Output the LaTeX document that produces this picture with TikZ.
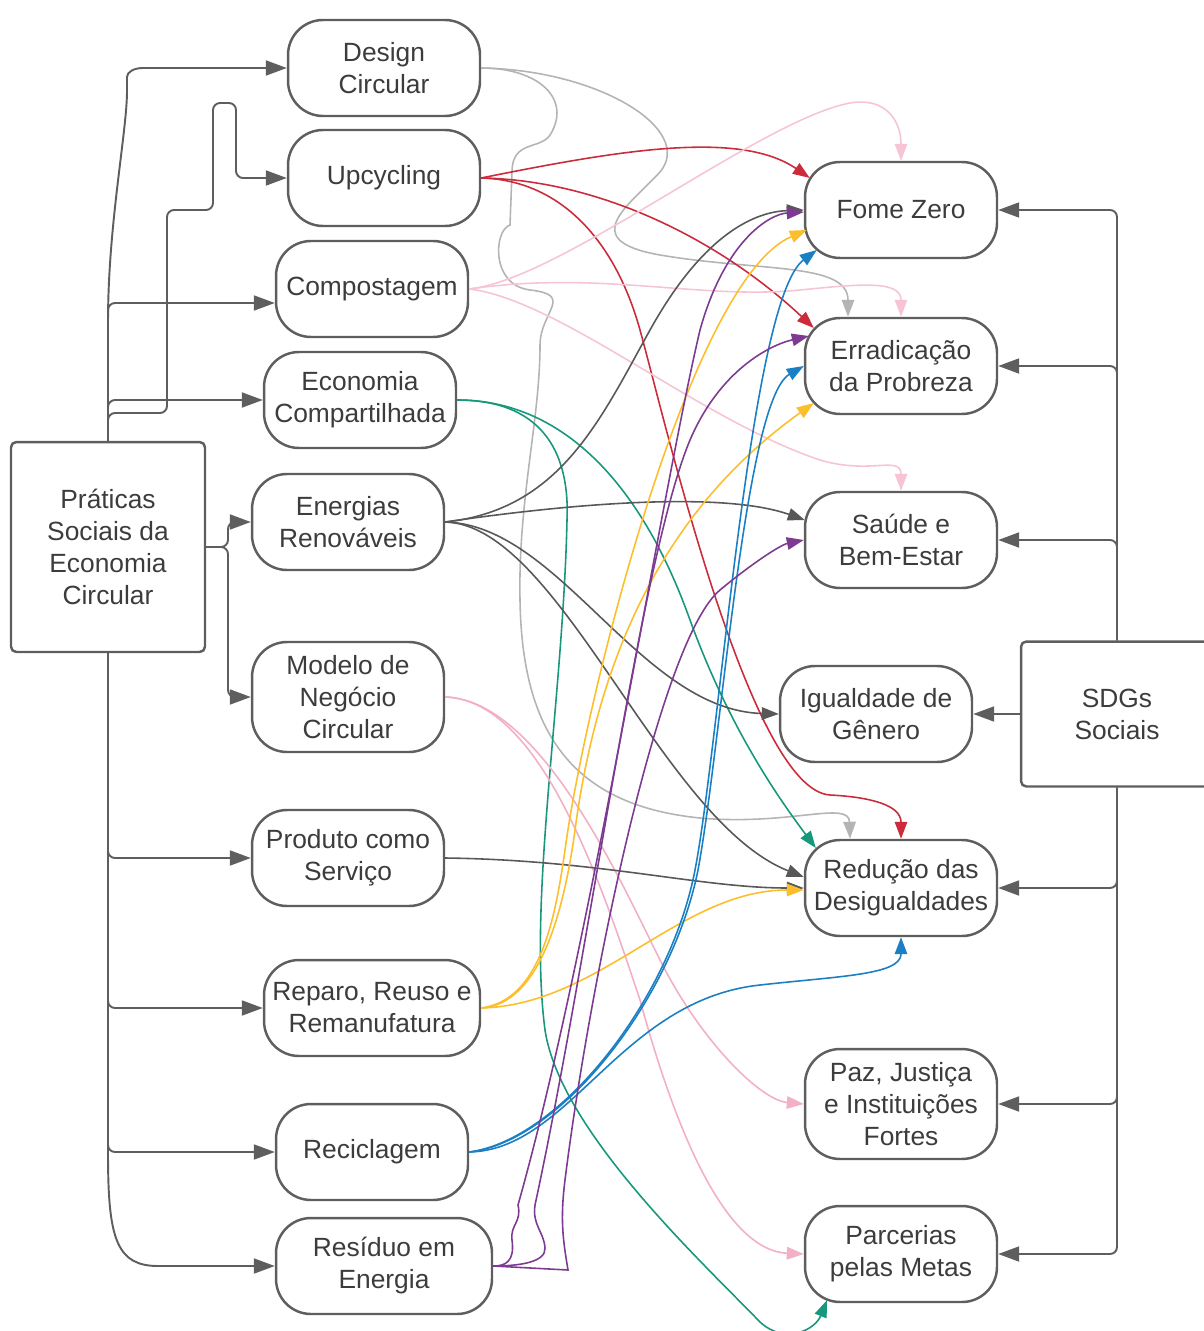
\documentclass[tikz,border=0pt]{standalone}
\usepackage{fontspec}
\setmainfont{Liberation Sans}
\usetikzlibrary{arrows.meta}

\definecolor{linec}{HTML}{5E5E5E}
\definecolor{textc}{HTML}{3C3C3C}
\definecolor{lgray}{HTML}{B4B4B4}
\definecolor{dgray}{HTML}{585858}
\definecolor{cred}{HTML}{CB2B3A}
\definecolor{lpink}{HTML}{F6C4D4}
\definecolor{cpink}{HTML}{F2AFC6}
\definecolor{cgreen}{HTML}{17977C}
\definecolor{cyellow}{HTML}{FDBE2C}
\definecolor{cblue}{HTML}{1B7FC3}
\definecolor{cpurple}{HTML}{7D3A91}

\tikzset{
  pill/.style={draw=linec, line width=1.4pt, rounded corners=0.7cm, minimum width=3.84cm, minimum height=1.92cm, align=center, inner sep=1pt, text=textc, font=\fontsize{15}{18.2}\selectfont},
  bigbox/.style={draw=linec, line width=1.4pt, rounded corners=3pt, minimum width=3.88cm, align=center, text=textc, font=\fontsize{15}{18.2}\selectfont},
  trunk/.style={draw=linec, line width=1.1pt, rounded corners=4pt, -{Triangle[length=0.42cm,width=0.3cm]}},
  link/.style={line width=0.9pt, -{Triangle[length=0.34cm,width=0.25cm]}},
}

\begin{document}
\begin{tikzpicture}[x=0.02cm, y=-0.02cm]
\useasboundingbox (0,0) rectangle (1203,1331);

\node[bigbox, minimum height=4.2cm] (pr) at (108,547) {Práticas\\Sociais da\\Economia\\Circular};
\node[pill] (dc) at (384,68) {Design\\Circular};
\node[pill] (up) at (384,178) {Upcycling};
\node[pill] (cp) at (372,289) {Compostagem};
\node[pill] (ec) at (360,400) {Economia\\Compartilhada};
\node[pill] (en) at (348,522) {Energias\\Renováveis};
\node[pill, minimum height=2.2cm] (mn) at (348,697) {Modelo de\\Negócio\\Circular};
\node[pill] (ps) at (348,858) {Produto como\\Serviço};
\node[pill, minimum width=4.32cm] (rr) at (372,1008) {Reparo, Reuso e\\Remanufatura};
\node[pill] (rc) at (372,1152) {Reciclagem};
\node[pill, minimum width=4.32cm] (re) at (384,1266) {Resíduo em\\Energia};

\node[pill] (fz) at (901,210) {Fome Zero};
\node[pill] (ep) at (901,366) {Erradicação\\da Probreza};
\node[pill] (sb) at (901,540) {Saúde e\\Bem-Estar};
\node[pill] (ig) at (876,714) {Igualdade de\\Gênero};
\node[pill] (rd) at (901,888) {Redução das\\Desigualdades};
\node[pill, minimum height=2.2cm] (pj) at (901,1104) {Paz, Justiça\\e Instituições\\Fortes};
\node[pill] (pm) at (901,1254) {Parcerias\\pelas Metas};
\node[bigbox, minimum width=3.84cm, minimum height=2.9cm] (sdg) at (1117,714) {SDGs\\Sociais};

\draw[trunk] (pr.north) -- (108,320) .. controls (109,220) and (127,130) .. (127,84) .. controls (127,72) and (134,68) .. (150,68) -- (dc.west);
\draw[trunk] (pr.north) -- (108,413) -- (167,413) -- (167,210) -- (213,210) -- (213,103) -- (236,103) -- (236,178) -- (up.west);
\draw[trunk] (pr.north) |- ([shift={(0,14)}]cp.west);
\draw[trunk] (pr.north) |- (ec.west);
\draw[trunk] (pr.east) -- (228,547) |- (en.west);
\draw[trunk] (pr.east) -- (228,547) |- (mn.west);
\draw[trunk] (pr.south) |- (ps.west);
\draw[trunk] (pr.south) |- (rr.west);
\draw[trunk] (pr.south) |- (rc.west);
\draw[trunk] (pr.south) -- (108,1160) .. controls (109,1240) and (118,1266) .. (165,1266) -- (re.west);

\draw[trunk] (sdg.north) |- (fz.east);
\draw[trunk] (sdg.north) |- (ep.east);
\draw[trunk] (sdg.north) |- (sb.east);
\draw[trunk] (sdg.west) -- (ig.east);
\draw[trunk] (sdg.south) |- (rd.east);
\draw[trunk] (sdg.south) |- (pj.east);
\draw[trunk] (sdg.south) |- (pm.east);

\draw[link, lgray] (dc.east) .. controls (540,68) and (572,100) .. (550,135) .. controls (540,150) and (512,140) .. (512,172) -- (510,225) .. controls (494,230) and (490,285) .. (530,290) .. controls (575,295) and (540,312) .. (540,345) .. controls (540,420) and (518,500) .. (520,600) .. controls (522,730) and (570,805) .. (700,818) .. controls (790,826) and (849,800) .. ([shift={(-51,0)}]rd.north);
\draw[link, lgray] (dc.east) .. controls (600,70) and (695,130) .. (660,172) .. controls (630,205) and (575,240) .. (660,255) .. controls (760,272) and (848,262) .. ([shift={(-53,0)}]ep.north);

\draw[link, cred] (up.east) .. controls (620,150) and (740,130) .. ([shift={(6,-32)}]fz.west);
\draw[link, cred] (up.east) .. controls (600,180) and (720,240) .. ([shift={(10,-38)}]ep.west);
\draw[link, cred] (up.east) .. controls (560,180) and (615,240) .. (640,330) .. controls (665,420) and (750,790) .. (830,795) .. controls (870,797) and (901,805) .. (rd.north);

\draw[link, lpink] (cp.east) .. controls (560,280) and (760,120) .. (850,103) .. controls (885,97) and (901,120) .. (fz.north);
\draw[link, lpink] (cp.east) .. controls (600,270) and (700,300) .. (800,290) .. controls (860,284) and (901,280) .. (ep.north);
\draw[link, lpink] (cp.east) .. controls (560,300) and (700,420) .. (820,460) .. controls (870,475) and (901,455) .. (sb.north);

\draw[link, cgreen] (ec.east) .. controls (560,400) and (640,480) .. (690,620) .. controls (730,730) and (780,800) .. ([shift={(12,-40)}]rd.west);
\draw[link, cgreen] (ec.east) .. controls (540,400) and (570,450) .. (567,520) .. controls (563,700) and (528,900) .. (545,1030) .. controls (560,1130) and (700,1260) .. (760,1322) .. controls (785,1345) and (815,1330) .. ([shift={(-74,-3)}]pm.south);

\draw[link, dgray] (en.east) .. controls (560,510) and (600,420) .. (650,330) .. controls (700,240) and (750,212) .. (fz.west);
\draw[link, dgray] (en.east) .. controls (560,505) and (720,490) .. ([shift={(1,-20)}]sb.west);
\draw[link, dgray] (en.east) .. controls (560,525) and (640,710) .. (ig.west);
\draw[link, dgray] (en.east) .. controls (560,525) and (660,820) .. ([shift={(0,-11)}]rd.west);

\draw[link, cpink] (mn.east) .. controls (540,700) and (620,880) .. (660,960) .. controls (700,1040) and (760,1100) .. (pj.west);
\draw[link, cpink] (mn.east) .. controls (540,700) and (600,880) .. (640,1000) .. controls (670,1110) and (720,1250) .. (pm.west);

\draw[link, dgray] (ps.east) .. controls (600,860) and (700,888) .. (rd.west);

\draw[link, cyellow] (rr.east) .. controls (540,1000) and (555,920) .. (565,850) .. controls (585,700) and (690,280) .. ([shift={(3,20)}]fz.west);
\draw[link, cyellow] (rr.east) .. controls (530,1005) and (560,940) .. (575,830) .. controls (595,680) and (650,520) .. ([shift={(10,37)}]ep.west);
\draw[link, cyellow] (rr.east) .. controls (600,1005) and (680,890) .. ([shift={(0,2)}]rd.west);

\draw[link, cblue] (rc.east) .. controls (560,1140) and (670,1000) .. (695,870) .. controls (720,740) and (750,300) .. ([shift={(13,40)}]fz.west);
\draw[link, cblue] (rc.east) .. controls (560,1142) and (672,1000) .. (698,870) .. controls (722,740) and (745,400) .. (ep.west);
\draw[link, cblue] (rc.east) .. controls (570,1150) and (620,1000) .. (760,985) .. controls (840,976) and (901,975) .. (rd.south);

\draw[link, cpurple] (re.east) .. controls (505,1266) and (515,1262) .. (512,1240) .. controls (510,1225) and (522,1222) .. (518,1205) .. controls (590,950) and (660,500) .. (700,330) .. controls (725,240) and (770,214) .. ([shift={(0,2)}]fz.west);
\draw[link, cpurple] (re.east) .. controls (520,1266) and (546,1262) .. (545,1248) .. controls (544,1232) and (532,1225) .. (535,1205) .. controls (590,950) and (640,560) .. (690,440) .. controls (720,370) and (770,345) .. ([shift={(5,-30)}]ep.west);
\draw[link, cpurple] (re.east) -- (568,1270) .. controls (563,1240) and (560,1220) .. (565,1180) .. controls (590,980) and (660,640) .. (720,590) .. controls (750,565) and (780,545) .. (sb.west);
\end{tikzpicture}
\end{document}
